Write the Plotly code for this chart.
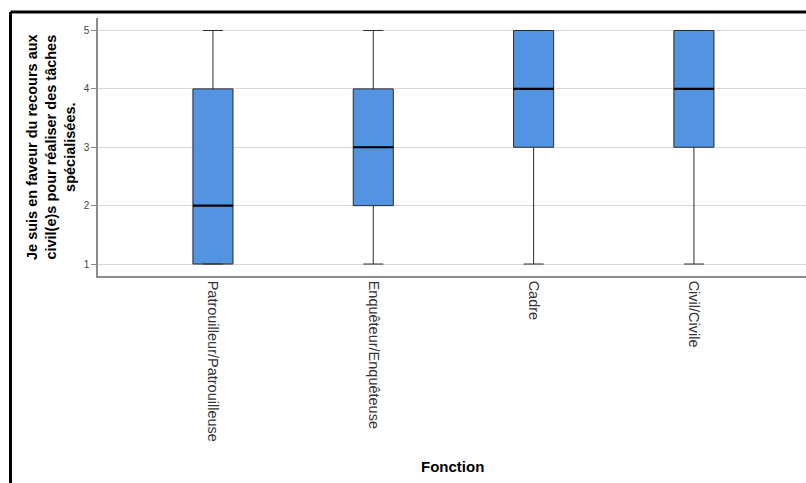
import plotly.graph_objects as go

categories = ["Patrouilleur/Patrouilleuse", "Enquêteur/Enquêteuse", "Cadre", "Civil/Civile"]
lower_fence = [1, 1, 1, 1]
q1 = [1, 2, 3, 3]
median = [2, 3, 4, 4]
q3 = [4, 4, 5, 5]
upper_fence = [5, 5, 5, 5]
y_ticks = [1, 2, 3, 4, 5]

W, H = 806, 483
L, R, T, B = 98, 0, 18, 207
pw, ph = W - L - R, H - T - B

FONT = "Arial, 'Liberation Sans', sans-serif"

fig = go.Figure()
fig.add_trace(go.Box(
    x=categories, q1=q1, median=median, q3=q3,
    lowerfence=lower_fence, upperfence=upper_fence,
    width=0.25, whiskerwidth=0.5,
    fillcolor="#5294E2", line=dict(color="#2b2b2b", width=1),
    boxpoints=False, hoverinfo="skip", showlegend=False,
))
fig.add_trace(go.Scatter(
    x=categories, y=median, mode="markers",
    marker=dict(symbol="line-ew", size=28.5, line=dict(color="black", width=2.2)),
    hoverinfo="skip", showlegend=False,
))

def px_x(p):
    return (p - L) / pw

def px_y(p):
    return 1 - (p - T) / ph

# outer frame (left and top edges)
fig.add_shape(type="line", xref="paper", yref="paper",
              x0=px_x(10.5), x1=px_x(W + 5), y0=px_y(12), y1=px_y(12),
              line=dict(color="black", width=3))
fig.add_shape(type="line", xref="paper", yref="paper",
              x0=px_x(10.5), x1=px_x(10.5), y0=px_y(12), y1=px_y(H + 5),
              line=dict(color="black", width=3))

fig.add_annotation(
    text="<b>Je suis en faveur du recours aux<br>civil(e)s pour réaliser des tâches<br>spécialisées.</b>",
    xref="paper", yref="paper", x=px_x(51), y=px_y(147),
    xanchor="center", yanchor="middle", textangle=-90, showarrow=False,
    font=dict(family=FONT, size=14.5, color="black"),
)
fig.add_annotation(
    text="<b>Fonction</b>", xref="paper", yref="paper",
    x=px_x(453), y=px_y(466), xanchor="center", yanchor="middle",
    showarrow=False, font=dict(family=FONT, size=15, color="black"),
)

fig.update_layout(
    width=W, height=H,
    margin=dict(l=L, r=R, t=T, b=B),
    paper_bgcolor="white", plot_bgcolor="white",
    font=dict(family=FONT),
    xaxis=dict(
        type="category", range=[-0.717, 3.699],
        showgrid=False, showline=True, linecolor="#8c8c8c", linewidth=1.5,
        ticks="", tickangle=90, tickfont=dict(size=14.5, color="#333333"),
        zeroline=False,
    ),
    yaxis=dict(
        range=[0.795, 5.214], tickvals=y_ticks,
        showgrid=True, gridcolor="#d9d9d9", gridwidth=1,
        showline=True, linecolor="#8c8c8c", linewidth=1.5,
        ticks="outside", ticklen=5, tickcolor="#8c8c8c",
        tickfont=dict(size=10, color="#444444"), zeroline=False,
    ),
)

fig.write_html("out.html", config={"displayModeBar": False},
               post_script="document.body.style.margin='0';document.body.style.overflow='hidden';")
